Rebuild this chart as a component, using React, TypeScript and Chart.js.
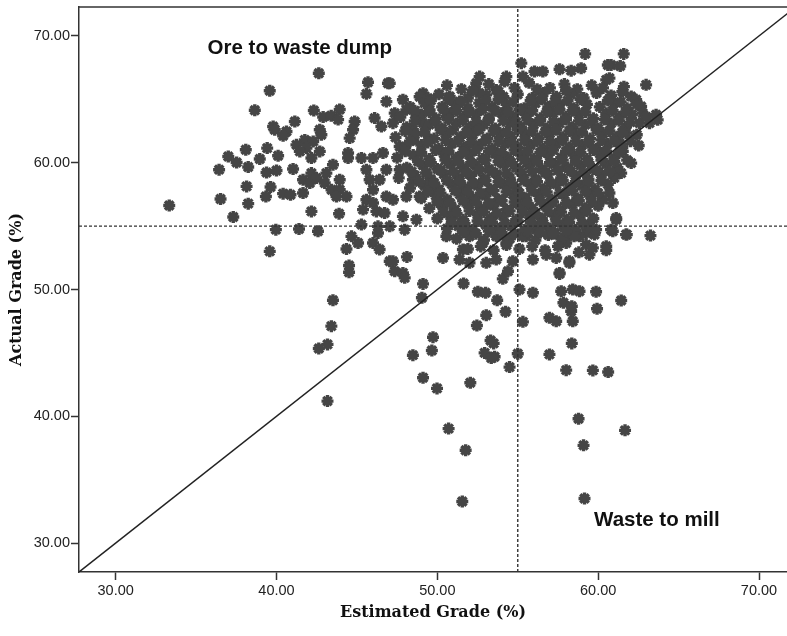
import React, { useEffect, useRef } from "react";
import { Chart, registerables } from "chart.js";

Chart.register(...registerables);

// Axis ranges / ticks
const xRange = [27.72, 71.74];
const yRange = [27.72, 72.28];
const xTicks = [30, 40, 50, 60, 70];
const yTicks = [30, 40, 50, 60, 70];
const cutoffGrade = 55;

const xTitle = "Estimated Grade (%)";
const yTitle = "Actual Grade (%)";

const annotationTexts = ["Ore to waste dump", "Waste to mill"];
const annotationX = [41.45, 63.65];
const annotationY = [69.01, 31.81];

// Sparse / edge points [estimated, actual]
const sparsePoints: [number, number][] = [
  [33.33, 56.63], [42.63, 67.06], [39.58, 65.67], [38.65, 64.14], [45.69, 66.35], [45.59, 65.43], [46.93, 66.27],
  [46.83, 64.82], [42.32, 64.12], [42.9, 63.6], [43.4, 63.7], [43.93, 64.2], [43.83, 63.4], [39.79, 62.86],
  [39.89, 62.6], [40.62, 62.46], [40.41, 62.12], [41.14, 63.25], [42.69, 62.6], [42.79, 62.2], [44.86, 63.25],
  [44.76, 62.6], [44.55, 61.94], [46.1, 63.52], [46.52, 62.86], [41.76, 61.8], [42.28, 61.67], [41.24, 61.41],
  [41.86, 61.15], [41.45, 60.89], [38.09, 61.02], [37.0, 60.49], [37.52, 60.02], [36.43, 59.45], [39.42, 61.15],
  [38.96, 60.29], [38.24, 59.66], [39.38, 59.23], [40.0, 59.39], [41.03, 59.5], [40.1, 60.55], [42.69, 60.89],
  [42.17, 60.37], [43.51, 59.84], [44.45, 60.76], [44.45, 60.37], [45.28, 60.37], [46.0, 60.37], [46.62, 60.76],
  [41.65, 58.66], [42.17, 59.18], [42.07, 58.4], [42.48, 58.79], [43.1, 59.18], [43.0, 58.4], [43.42, 57.87],
  [43.93, 58.66], [43.93, 57.87], [44.35, 57.34], [43.73, 57.34], [45.59, 59.45], [45.79, 58.66], [46.0, 57.87],
  [45.59, 57.08], [45.38, 56.3], [46.0, 56.82], [46.21, 56.16], [46.83, 57.34], [46.41, 58.66], [38.14, 58.13],
  [38.24, 56.77], [36.52, 57.14], [37.31, 55.72], [39.34, 57.34], [39.63, 58.08], [40.41, 57.56], [40.87, 57.47],
  [42.17, 56.16], [43.89, 55.98], [41.65, 57.61], [39.96, 54.72], [41.4, 54.77], [42.58, 54.59], [45.28, 55.12],
  [46.31, 54.98], [39.58, 53.01], [44.35, 53.2], [44.66, 54.19], [45.07, 53.67], [46.0, 53.67], [46.31, 54.46],
  [46.41, 53.15], [44.51, 51.89], [44.51, 51.36], [43.51, 49.15], [43.41, 47.11], [43.17, 45.67], [42.63, 45.35],
  [43.17, 41.2], [47.04, 52.23], [47.24, 52.23], [47.35, 51.44], [47.86, 51.31], [47.97, 50.92], [48.11, 52.57],
  [49.11, 50.44], [49.04, 49.35], [51.63, 50.47], [52.52, 49.82], [53.0, 49.74], [53.72, 49.15], [53.04, 47.97],
  [54.24, 48.24], [52.46, 47.16], [55.32, 47.45], [49.73, 46.24], [49.66, 45.19], [48.48, 44.82], [53.31, 45.98],
  [53.5, 45.75], [52.94, 45.0], [53.56, 44.7], [53.35, 44.6], [55.0, 44.93], [54.49, 43.88], [49.11, 43.04],
  [49.98, 42.2], [52.05, 42.65], [55.11, 50.0], [55.94, 49.74], [56.77, 52.75], [57.39, 52.49], [57.7, 49.86],
  [58.21, 52.23], [58.42, 50.0], [58.84, 49.86], [57.6, 51.31], [56.97, 47.77], [57.39, 47.5], [58.32, 48.29],
  [58.42, 47.5], [58.36, 45.75], [56.97, 44.88], [58.01, 43.64], [50.35, 52.49], [51.38, 52.36], [52.0, 52.1],
  [53.04, 52.1], [53.66, 52.36], [54.69, 52.23], [55.94, 52.36], [54.07, 50.84], [54.39, 51.44], [50.7, 39.03],
  [51.76, 37.32], [51.55, 33.28], [58.78, 39.81], [59.09, 37.71], [59.15, 33.52], [61.67, 38.89], [59.67, 43.62],
  [60.62, 43.49], [59.93, 48.48], [61.43, 49.13], [57.84, 48.95], [58.36, 48.68], [59.87, 49.82], [58.8, 52.93],
  [59.46, 52.75], [60.5, 53.09], [59.25, 53.54], [59.67, 53.28], [58.21, 52.1], [57.6, 51.23], [57.29, 54.46],
  [58.01, 54.33], [58.42, 54.46], [59.25, 54.46], [59.77, 54.33], [60.91, 54.59], [61.78, 54.33], [63.25, 54.25],
  [61.59, 68.58], [60.8, 67.71], [61.37, 67.63], [62.98, 66.14], [60.5, 66.53], [60.7, 66.67], [62.05, 65.22],
  [62.36, 64.96], [62.67, 64.43], [62.77, 63.91], [63.6, 63.78], [63.7, 63.38], [63.19, 63.12], [62.57, 63.12],
  [62.52, 61.36], [62.05, 59.97], [61.53, 60.89], [61.43, 59.18], [60.91, 56.82], [60.7, 57.61], [61.12, 55.51],
  [60.8, 54.72], [61.73, 54.33], [60.5, 53.41], [61.12, 55.64], [61.73, 62.34], [61.32, 61.55], [59.19, 68.58],
  [55.22, 67.85], [56.04, 67.19], [56.56, 67.19], [57.6, 67.37], [58.32, 67.26], [58.94, 67.45], [60.6, 67.71],
  [52.63, 66.79], [52.42, 66.27], [54.29, 66.79], [54.18, 66.4], [55.32, 66.79], [47.04, 66.27], [47.86, 64.96],
  [49.11, 65.48], [49.42, 65.09], [50.77, 65.22], [51.38, 64.82], [53.04, 65.35], [53.66, 65.74], [47.35, 63.91],
  [48.07, 64.17], [48.7, 63.64], [49.52, 64.17], [47.24, 63.12], [48.48, 62.6], [49.11, 63.12], [47.66, 61.28],
  [48.48, 61.81], [49.52, 61.81], [50.56, 63.64], [50.97, 62.6], [46.83, 59.45], [47.66, 59.45], [48.48, 58.66],
  [49.32, 59.18], [49.73, 57.87], [48.9, 57.34], [48.07, 57.34], [47.24, 57.08], [46.72, 56.03], [47.86, 55.77],
  [48.7, 55.51], [47.04, 54.98], [47.97, 54.72], [50.56, 54.2], [51.8, 54.72], [52.83, 53.67], [53.66, 54.2],
  [54.29, 53.67], [51.59, 53.15], [55.52, 54.2], [56.15, 54.72], [57.18, 54.46], [58.01, 53.67], [58.84, 54.2],
  [59.87, 54.72],
];

// Dense core points [estimated, actual]
const densePoints: [number, number][] = [
  [50.6, 66.1], [51.5, 65.8], [53.2, 66.2], [54.8, 65.9], [55.7, 66.3], [57.0, 65.9], [57.9, 66.2], [58.7, 65.8], [59.6, 66.1], [61.6, 66.0],
  [48.9, 65.2], [50.1, 65.4], [51.9, 65.1], [52.6, 65.5], [54.1, 65.2], [55.0, 65.4], [55.9, 65.1], [56.6, 65.5], [57.4, 65.2], [58.3, 65.4], [59.1, 65.1], [59.9, 65.5], [60.8, 65.3], [61.5, 65.6],
  [48.3, 64.4], [49.2, 64.7], [50.3, 64.4], [51.1, 64.6], [51.9, 64.3], [52.6, 64.7], [53.4, 64.4], [54.3, 64.6], [55.4, 64.3], [56.1, 64.7], [56.9, 64.4], [57.6, 64.6], [58.5, 64.3], [59.3, 64.6], [60.1, 64.4], [61.0, 64.7], [61.8, 64.3], [62.4, 64.6],
  [47.7, 63.6], [49.0, 63.8], [49.9, 63.5], [50.8, 63.9], [51.6, 63.6], [52.4, 63.8], [53.2, 63.5], [54.0, 63.9], [54.7, 63.6], [55.5, 63.8], [56.4, 63.5], [57.2, 63.9], [58.0, 63.6], [58.8, 63.8], [59.7, 63.5], [60.5, 63.9], [61.3, 63.6], [62.1, 63.8], [63.0, 63.6],
  [48.1, 62.8], [49.5, 63.0], [50.3, 62.7], [51.2, 63.1], [52.0, 62.8], [52.9, 63.0], [53.6, 62.7], [54.5, 63.1], [55.2, 62.8], [56.0, 63.0], [56.8, 62.7], [57.6, 63.1], [58.4, 62.8], [59.2, 63.0], [60.0, 62.7], [60.8, 63.1], [61.7, 62.8], [62.4, 62.2],
  [47.4, 62.0], [48.6, 62.2], [49.8, 61.9], [50.6, 62.3], [51.4, 62.0], [52.2, 62.2], [53.1, 61.9], [53.9, 62.3], [54.6, 62.0], [55.5, 62.2], [56.3, 61.9], [57.0, 62.3], [57.8, 62.0], [58.6, 62.2], [59.5, 61.9], [60.3, 62.3], [61.1, 62.0], [62.0, 61.7],
  [48.0, 61.2], [49.0, 61.4], [50.1, 61.1], [50.9, 61.5], [51.7, 61.2], [52.6, 61.4], [53.4, 61.1], [54.2, 61.5], [55.0, 61.2], [55.8, 61.4], [56.6, 61.1], [57.4, 61.5], [58.2, 61.2], [59.0, 61.4], [59.9, 61.1], [60.6, 61.5], [61.5, 61.2],
  [47.5, 60.4], [48.5, 60.6], [49.5, 60.3], [50.4, 60.7], [51.2, 60.4], [52.0, 60.6], [52.8, 60.3], [53.6, 60.7], [54.4, 60.4], [55.2, 60.6], [56.0, 60.3], [56.9, 60.7], [57.7, 60.4], [58.5, 60.6], [59.3, 60.3], [60.1, 60.7], [61.0, 60.4], [61.8, 60.2],
  [48.1, 59.6], [49.1, 59.8], [50.0, 59.5], [50.8, 59.9], [51.6, 59.6], [52.4, 59.8], [53.2, 59.5], [54.1, 59.9], [54.9, 59.6], [55.7, 59.8], [56.5, 59.5], [57.3, 59.9], [58.1, 59.6], [58.9, 59.8], [59.7, 59.5], [60.5, 59.9], [61.2, 59.6],
  [47.6, 58.8], [48.6, 59.0], [49.6, 58.7], [50.4, 59.1], [51.3, 58.8], [52.1, 59.0], [52.9, 58.7], [53.7, 59.1], [54.5, 58.8], [55.3, 59.0], [56.1, 58.7], [56.9, 59.1], [57.7, 58.8], [58.6, 59.0], [59.4, 58.7], [60.2, 59.1], [61.0, 58.8],
  [48.3, 58.0], [49.2, 58.2], [50.1, 57.9], [50.9, 58.3], [51.7, 58.0], [52.5, 58.2], [53.3, 57.9], [54.1, 58.3], [54.9, 58.0], [55.8, 58.2], [56.6, 57.9], [57.4, 58.3], [58.2, 58.0], [59.0, 58.2], [59.8, 57.9], [60.6, 58.3],
  [49.0, 57.2], [49.9, 57.4], [50.6, 57.1], [51.4, 57.5], [52.2, 57.2], [53.0, 57.4], [53.8, 57.1], [54.7, 57.5], [55.5, 57.2], [56.3, 57.4], [57.1, 57.1], [57.9, 57.5], [58.7, 57.2], [59.5, 57.4], [60.3, 57.1],
  [49.5, 56.4], [50.3, 56.6], [51.1, 56.3], [51.9, 56.7], [52.7, 56.4], [53.5, 56.6], [54.3, 56.3], [55.1, 56.7], [55.9, 56.4], [56.7, 56.6], [57.6, 56.3], [58.4, 56.7], [59.2, 56.4], [60.0, 56.6],
  [50.0, 55.6], [50.8, 55.8], [51.6, 55.5], [52.5, 55.9], [53.3, 55.6], [54.1, 55.8], [54.9, 55.5], [55.7, 55.9], [56.5, 55.6], [57.3, 55.8], [58.1, 55.5], [58.9, 55.9], [59.7, 55.6],
  [50.6, 54.8], [51.3, 55.0], [52.2, 54.7], [53.0, 55.1], [53.8, 54.8], [54.6, 55.0], [55.4, 54.7], [56.3, 55.1], [57.0, 54.8], [57.8, 55.0], [58.6, 54.7], [59.4, 55.1],
  [51.2, 54.0], [52.0, 54.2], [52.9, 53.9], [53.7, 54.3], [54.5, 54.0], [55.3, 54.2], [56.1, 53.9], [56.9, 54.3], [57.7, 54.0], [58.5, 54.2],
  [51.9, 53.2], [52.7, 53.4], [53.5, 53.1], [54.3, 53.5], [55.1, 53.2], [55.9, 53.4], [56.7, 53.1], [57.5, 53.4],
];

// Additional core points lying between the rows above
const fillPoints: [number, number][] = [
  [52.2, 65.7], [53.8, 65.6], [56.2, 65.8], [58.0, 65.7], [60.3, 65.9],
  [49.6, 64.9], [50.7, 65.0], [51.5, 64.8], [53.0, 64.9], [53.8, 65.0], [54.7, 64.8], [55.8, 64.9], [56.5, 65.0], [57.3, 64.8], [58.1, 64.9], [58.9, 65.0], [60.6, 64.9], [61.4, 64.8],
  [48.6, 64.1], [49.5, 64.0], [50.4, 64.2], [51.2, 64.1], [52.0, 64.0], [52.8, 64.2], [53.6, 64.1], [54.4, 64.0], [55.1, 64.2], [55.9, 64.1], [56.8, 64.0], [57.6, 64.2], [58.4, 64.1], [59.2, 64.0], [60.9, 64.1], [61.7, 64.0],
  [48.6, 63.3], [49.9, 63.2], [50.7, 63.4], [51.6, 63.3], [52.4, 63.2], [53.2, 63.4], [54.1, 63.3], [54.9, 63.2], [55.6, 63.4], [56.4, 63.3], [57.2, 63.2], [58.0, 63.4], [58.8, 63.3], [59.6, 63.2], [60.4, 63.4], [61.3, 63.3], [62.0, 63.2],
  [48.0, 62.5], [49.2, 62.4], [50.2, 62.6], [51.8, 62.4], [52.6, 62.6], [53.5, 62.5], [54.3, 62.4], [55.0, 62.6], [55.9, 62.5], [56.7, 62.4], [57.4, 62.6], [58.2, 62.5], [59.0, 62.4], [59.9, 62.6], [60.7, 62.5], [61.5, 62.4],
  [48.3, 61.7], [49.4, 61.6], [50.5, 61.8], [51.3, 61.7], [52.1, 61.6], [53.0, 61.8], [53.8, 61.7], [54.6, 61.6], [55.4, 61.8], [56.2, 61.7], [57.0, 61.6], [57.8, 61.8], [58.6, 61.7], [59.4, 61.6], [60.2, 61.8], [61.0, 61.7],
  [48.0, 60.9], [49.0, 60.8], [49.9, 61.0], [50.7, 60.9], [51.6, 60.8], [52.4, 61.0], [53.2, 60.9], [54.0, 60.8], [54.8, 61.0], [55.6, 60.9], [56.4, 60.8], [57.2, 61.0], [58.0, 60.9], [58.9, 60.8], [59.7, 61.0], [60.5, 60.9], [61.3, 60.8],
  [48.8, 60.1], [49.6, 60.0], [50.5, 60.2], [51.3, 60.1], [52.1, 60.0], [53.0, 60.2], [53.8, 60.1], [54.6, 60.0], [55.4, 60.2], [56.2, 60.1], [57.0, 60.0], [57.8, 60.2], [58.6, 60.1], [59.4, 60.0], [60.2, 60.2], [61.0, 60.1],
  [48.4, 59.3], [49.3, 59.2], [50.2, 59.4], [51.0, 59.3], [51.8, 59.2], [52.6, 59.4], [53.4, 59.3], [54.3, 59.2], [55.1, 59.4], [55.9, 59.3], [56.7, 59.2], [57.5, 59.4], [58.3, 59.3], [59.1, 59.2], [59.9, 59.4], [60.7, 59.3],
  [48.9, 58.5], [49.8, 58.4], [50.6, 58.6], [51.4, 58.5], [52.2, 58.4], [53.0, 58.6], [53.8, 58.5], [54.6, 58.4], [55.4, 58.6], [56.2, 58.5], [57.0, 58.4], [57.8, 58.6], [58.6, 58.5], [59.4, 58.4], [60.2, 58.6],
  [49.4, 57.7], [50.2, 57.6], [51.1, 57.8], [51.9, 57.7], [52.7, 57.6], [53.5, 57.8], [54.3, 57.7], [55.1, 57.6], [55.9, 57.8], [56.8, 57.7], [57.6, 57.6], [58.4, 57.8], [59.2, 57.7], [60.0, 57.6],
  [50.0, 56.9], [50.8, 56.8], [51.6, 57.0], [52.4, 56.9], [53.2, 56.8], [54.0, 57.0], [54.8, 56.9], [55.6, 56.8], [56.4, 57.0], [57.2, 56.9], [58.0, 56.8], [58.8, 57.0], [59.6, 56.9],
  [50.4, 56.1], [51.2, 56.0], [52.0, 56.2], [52.9, 56.1], [53.7, 56.0], [54.5, 56.2], [55.3, 56.1], [56.1, 56.0], [56.9, 56.2], [57.7, 56.1], [58.5, 56.0], [59.3, 56.2],
  [50.9, 55.3], [51.7, 55.2], [52.5, 55.4], [53.4, 55.3], [54.2, 55.2], [55.0, 55.4], [55.8, 55.3], [56.6, 55.2], [57.4, 55.4], [58.2, 55.3], [59.0, 55.2],
  [51.6, 54.5], [52.4, 54.4], [53.2, 54.6], [54.0, 54.5], [54.8, 54.4], [55.6, 54.6], [56.4, 54.5], [57.2, 54.4], [58.0, 54.6],
];

const pointColor = "#454545";
const axisColor = "#333333";

export default function App() {
  const canvasRef = useRef<HTMLCanvasElement | null>(null);

  useEffect(() => {
    const canvas = canvasRef.current;
    if (!canvas) return;

    const textPlugin = {
      id: "annotationsAndFrame",
      afterDraw(chart: any) {
        const { ctx, chartArea, scales } = chart;
        ctx.save();
        ctx.strokeStyle = axisColor;
        ctx.lineWidth = 1.5;
        ctx.beginPath();
        ctx.moveTo(chartArea.left, chartArea.top);
        ctx.lineTo(chartArea.right, chartArea.top);
        ctx.stroke();
        ctx.fillStyle = "#111111";
        ctx.font = 'bold 20.5px "Liberation Sans", Arial, sans-serif';
        ctx.textAlign = "center";
        ctx.textBaseline = "middle";
        annotationTexts.forEach((t, i) => {
          ctx.fillText(t, scales.x.getPixelForValue(annotationX[i]), scales.y.getPixelForValue(annotationY[i]));
        });
        ctx.restore();
      },
    };

    const allPoints = [...sparsePoints, ...densePoints, ...fillPoints].map(([x, y]) => ({ x, y }));

    const chart = new Chart(canvas, {
      type: "scatter",
      data: {
        datasets: [
          {
            label: "diag",
            data: [{ x: yRange[0], y: yRange[0] }, { x: yRange[1], y: yRange[1] }],
            showLine: true,
            borderColor: "#222222",
            borderWidth: 1.5,
            pointRadius: 0,
            order: 0,
          },
          {
            label: "vcut",
            data: [{ x: cutoffGrade, y: yRange[0] }, { x: cutoffGrade, y: yRange[1] }],
            showLine: true,
            borderColor: "#333333",
            borderWidth: 1.4,
            borderDash: [3, 2],
            pointRadius: 0,
            order: 0,
          },
          {
            label: "hcut",
            data: [{ x: xRange[0], y: cutoffGrade }, { x: xRange[1], y: cutoffGrade }],
            showLine: true,
            borderColor: "#333333",
            borderWidth: 1.4,
            borderDash: [3, 2],
            pointRadius: 0,
            order: 0,
          },
          {
            label: "grades",
            data: allPoints,
            pointStyle: "star",
            pointRadius: 6,
            pointBorderWidth: 3.4,
            borderColor: pointColor,
            backgroundColor: pointColor,
            pointHoverRadius: 6,
            order: 1,
          },
        ],
      },
      options: {
        animation: false,
        responsive: false,
        devicePixelRatio: 1,
        layout: { autoPadding: false, padding: { top: 7, right: 0, left: 0, bottom: 0 } },
        plugins: { legend: { display: false }, tooltip: { enabled: false } },
        scales: {
          x: {
            type: "linear",
            min: xRange[0],
            max: xRange[1],
            afterBuildTicks: (s: any) => {
              s.ticks = xTicks.map((v) => ({ value: v }));
            },
            afterFit: (s: any) => {
              s.height = 64;
              s.paddingLeft = 0;
              s.paddingRight = 0;
            },
            ticks: {
              callback: (v: any) => Number(v).toFixed(2),
              color: "#222222",
              font: { family: '"Liberation Sans", Arial, sans-serif', size: 14.5 },
              padding: 2,
              maxRotation: 0,
            },
            grid: { drawOnChartArea: false, drawTicks: true, tickLength: 8, tickColor: axisColor, tickWidth: 1.5 },
            border: { display: true, color: axisColor, width: 1.5 },
            title: {
              display: true,
              text: xTitle,
              color: "#111111",
              font: { family: '"DejaVu Serif", serif', size: 16, weight: "bold" },
              padding: { top: 0, bottom: 14 },
            },
          },
          y: {
            type: "linear",
            min: yRange[0],
            max: yRange[1],
            afterBuildTicks: (s: any) => {
              s.ticks = yTicks.map((v) => ({ value: v }));
            },
            afterFit: (s: any) => {
              s.width = 79;
              s.paddingTop = 0;
              s.paddingBottom = 0;
            },
            ticks: {
              callback: (v: any) => Number(v).toFixed(2),
              color: "#222222",
              font: { family: '"Liberation Sans", Arial, sans-serif', size: 14.5 },
              padding: 1,
            },
            grid: { drawOnChartArea: false, drawTicks: true, tickLength: 8, tickColor: axisColor, tickWidth: 1.5 },
            border: { display: true, color: axisColor, width: 1.5 },
            title: {
              display: true,
              text: yTitle,
              color: "#111111",
              font: { family: '"DejaVu Serif", serif', size: 16, weight: "bold" },
              padding: { top: 7, bottom: 0 },
            },
          },
        },
      },
      plugins: [textPlugin],
    });

    return () => chart.destroy();
  }, []);

  return (
    <div style={{ position: "fixed", left: 0, top: 0, width: 787, height: 636, background: "#fff" }}>
      <canvas ref={canvasRef} width={787} height={636} style={{ display: "block" }} />
    </div>
  );
}
